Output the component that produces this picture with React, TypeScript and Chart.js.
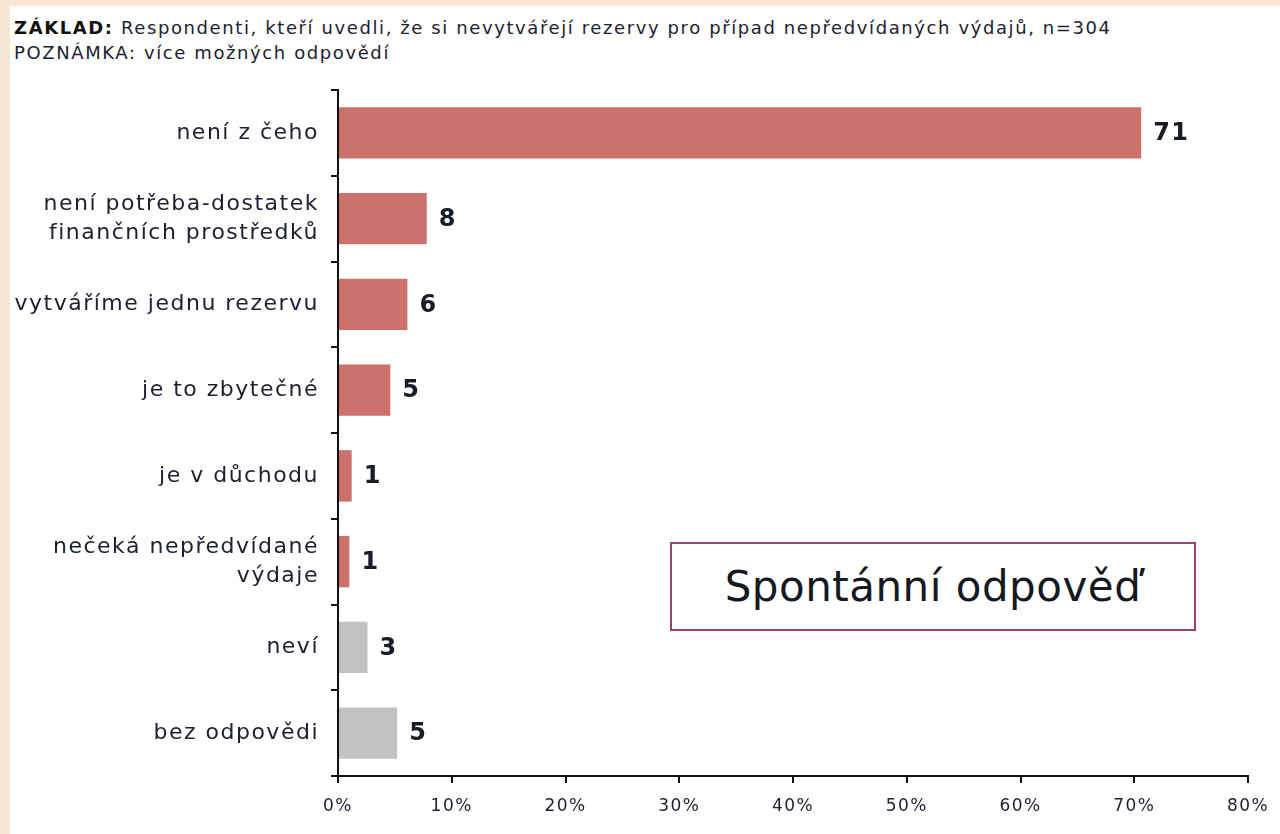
import React, { useEffect, useRef } from "react";
import { Chart, registerables } from "chart.js";

Chart.register(...registerables);

const categories: (string | string[])[] = [
  "není z čeho",
  ["není potřeba-dostatek", "finančních prostředků"],
  "vytváříme jednu rezervu",
  "je to zbytečné",
  "je v důchodu",
  ["nečeká nepředvídané", "výdaje"],
  "neví",
  "bez odpovědi",
];
const values = [70.6, 7.8, 6.1, 4.6, 1.2, 1.0, 2.6, 5.2];
const groups = ["reason", "reason", "reason", "reason", "reason", "reason", "other", "other"];
const xTicks = [0, 10, 20, 30, 40, 50, 60, 70, 80];

const titleBold = "ZÁKLAD:";
const titleRest = " Respondenti, kteří uvedli, že si nevytvářejí rezervy pro případ nepředvídaných výdajů, n=304";
const noteLine = "POZNÁMKA: více možných odpovědí";
const boxText = "Spontánní odpověď";

const RED = "#cc716c";
const GREY = "#c2c2c2";
const TEXT = "#1c2130";
const FONT = "'DejaVu Sans', Verdana, sans-serif";

export default function App() {
  const ref = useRef<HTMLCanvasElement | null>(null);

  useEffect(() => {
    document.body.style.margin = "0";
    if (!ref.current) return;
    const spacingPlugin = {
      id: "spacing",
      beforeDraw(chart: any) {
        chart.ctx.letterSpacing = "1.5px";
      },
      afterDraw(chart: any) {
        chart.ctx.letterSpacing = "0px";
      },
    };
    const valueLabels = {
      id: "valueLabels",
      afterDatasetsDraw(chart: any) {
        const ctx = chart.ctx;
        const meta = chart.getDatasetMeta(0);
        ctx.save();
        ctx.font = `bold 24px ${FONT}`;
        ctx.fillStyle = "#181c28";
        ctx.textAlign = "left";
        ctx.textBaseline = "middle";
        meta.data.forEach((bar: any, i: number) => {
          ctx.fillText(String(Math.round(values[i])), bar.x + 12, bar.y + 1);
        });
        ctx.restore();
      },
    };
    const chart = new Chart(ref.current, {
      type: "bar",
      data: {
        labels: categories,
        datasets: [
          {
            data: values,
            backgroundColor: groups.map((g) => (g === "reason" ? RED : GREY)),
            borderWidth: 0,
            barPercentage: 0.6,
            categoryPercentage: 1,
          },
        ],
      },
      options: {
        indexAxis: "y",
        animation: false,
        responsive: false,
        maintainAspectRatio: false,
        layout: { padding: { top: 90, right: 26, left: 0, bottom: 0 } },
        plugins: {
          legend: { display: false },
          tooltip: { enabled: false },
          title: { display: false },
        },
        scales: {
          x: {
            type: "linear",
            min: 0,
            max: 80,
            afterBuildTicks(scale: any) {
              scale.ticks = xTicks.map((v) => ({ value: v }));
            },
            afterFit(scale: any) {
              scale.height = 58;
            },
            border: { display: true, color: "#111", width: 2 },
            grid: {
              display: true,
              drawOnChartArea: false,
              drawTicks: true,
              tickLength: 7,
              color: "#111",
              lineWidth: 2,
            },
            ticks: {
              padding: 13,
              color: TEXT,
              font: { family: FONT, size: 17 },
              callback: (v: any) => v + "%",
              maxRotation: 0,
            },
          },
          y: {
            type: "category",
            afterFit(scale: any) {
              scale.width = 338;
            },
            border: { display: true, color: "#111", width: 2 },
            grid: {
              display: true,
              drawOnChartArea: false,
              drawTicks: true,
              tickLength: 7,
              color: "#111",
              lineWidth: 2,
              offset: true,
            },
            ticks: {
              padding: 12,
              color: TEXT,
              font: { family: FONT, size: 22, lineHeight: 1.32 },
              autoSkip: false,
            },
          },
        },
      },
      plugins: [spacingPlugin, valueLabels],
    });
    return () => chart.destroy();
  }, []);

  return (
    <div
      style={{
        position: "relative",
        width: 1280,
        height: 834,
        background: "#f6e7d4",
        overflow: "hidden",
        fontFamily: FONT,
      }}
    >
      <div
        style={{
          position: "absolute",
          left: 10,
          top: 6,
          right: 0,
          bottom: 0,
          background: "#ffffff",
        }}
      />
      <div
        style={{
          position: "absolute",
          left: 14,
          top: 15,
          fontSize: 18,
          lineHeight: "25px",
          color: TEXT,
          letterSpacing: "1.6px",
          whiteSpace: "nowrap",
        }}
      >
        <div>
          <b style={{ color: "#111" }}>{titleBold}</b>
          {titleRest}
        </div>
        <div>{noteLine}</div>
      </div>
      <canvas
        ref={ref}
        width={1280}
        height={834}
        style={{ position: "absolute", left: 0, top: 0, width: 1280, height: 834 }}
      />
      <div
        style={{
          position: "absolute",
          left: 670,
          top: 542,
          width: 522,
          height: 85,
          border: "2px solid #a0406c",
          background: "#fff",
          display: "flex",
          alignItems: "center",
          justifyContent: "center",
          fontSize: 42,
          color: "#151820",
          letterSpacing: "0.5px",
        }}
      >
        {boxText}
      </div>
    </div>
  );
}
